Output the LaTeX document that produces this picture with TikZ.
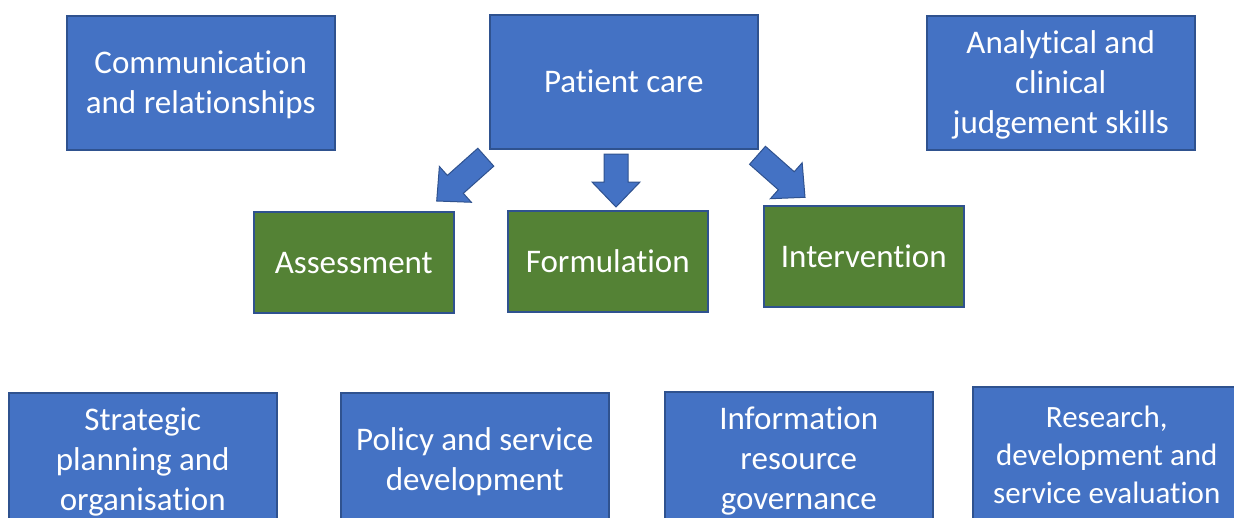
\documentclass[tikz,border=0pt]{standalone}
\usepackage{fontspec}
\setmainfont{Carlito}[Ligatures=NoCommon]
\usetikzlibrary{calc}

\definecolor{boxblue}{HTML}{4472C4}
\definecolor{boxline}{HTML}{2F528F}
\definecolor{boxgreen}{HTML}{548235}

% line struts so that every box centres its lines by line height
\newcommand\lstr{\rule[-6pt]{0pt}{34pt}}
\newcommand\sstr{\rule[-5pt]{0pt}{33pt}}

\tikzset{
  topic/.style={draw=boxline, line width=1.5pt, fill=boxblue, text=white,
    align=center, anchor=north west, inner sep=0pt,
    minimum width=268pt, minimum height=134pt,
    font=\fontsize{33}{40}\selectfont},
  smalltopic/.style={topic, font=\fontsize{31}{38}\selectfont},
  stage/.style={topic, fill=boxgreen, minimum width=200pt, minimum height=101pt},
  blockarrow/.style={draw=boxline, line width=1pt, fill=boxblue, line join=miter}
}

% block arrow from tail coordinate #1 to tip coordinate #2
\newcommand\blockarrow[2]{%
  \coordinate (#2-base) at ($(#2)!25pt!(#1)$);
  \draw[blockarrow]
    ($(#1)!12pt!90:(#2)$) -- ($(#2-base)!12pt!90:(#2)$)
    -- ($(#2-base)!24pt!90:(#2)$) -- (#2)
    -- ($(#2-base)!24pt!-90:(#2)$) -- ($(#2-base)!12pt!-90:(#2)$)
    -- ($(#1)!12pt!-90:(#2)$) -- cycle;
}

\begin{document}
\begin{tikzpicture}[x=1pt, y=1pt]
  \useasboundingbox (0,0) rectangle (1234,-517);
  \clip (0,0) rectangle (1234,-517);

  % top row
  \node[topic] (comm) at (66,-15) {\lstr Communication\\and relationships\lstr};
  \node[topic] (care) at (489,-14) {\lstr Patient care\lstr};
  \node[topic] (anal) at (926,-15) {\lstr Analytical and\\clinical\\judgement skills\lstr};

  % stages of patient care
  \node[stage] (assess) at (253,-211) {\lstr Assessment\lstr};
  \node[stage] (form) at (507,-210) {\lstr Formulation\lstr};
  \node[stage] (interv) at (763,-205) {\lstr Intervention\lstr};

  % bottom row
  \node[topic] (strat) at (8,-392) {\lstr Strategic\\planning and\\organisation\lstr};
  \node[topic] (policy) at (340,-392) {\lstr Policy and service\\development\lstr};
  \node[topic] (info) at (664,-391) {\lstr Information\\resource\\governance\lstr};
  \node[smalltopic] (research) at (972,-386)
    {\sstr Research,\\development and\\service evaluation\sstr};

  % arrows from patient care to its stages
  \coordinate (t1) at (485.8,-157.2);
  \coordinate (h1) at (436.7,-201);
  \coordinate (t2) at (616,-154);
  \coordinate (h2) at (616,-207);
  \coordinate (t3) at (757.5,-155.3);
  \coordinate (h3) at (805,-197.3);
  \blockarrow{t1}{h1}
  \blockarrow{t2}{h2}
  \blockarrow{t3}{h3}
\end{tikzpicture}
\end{document}
